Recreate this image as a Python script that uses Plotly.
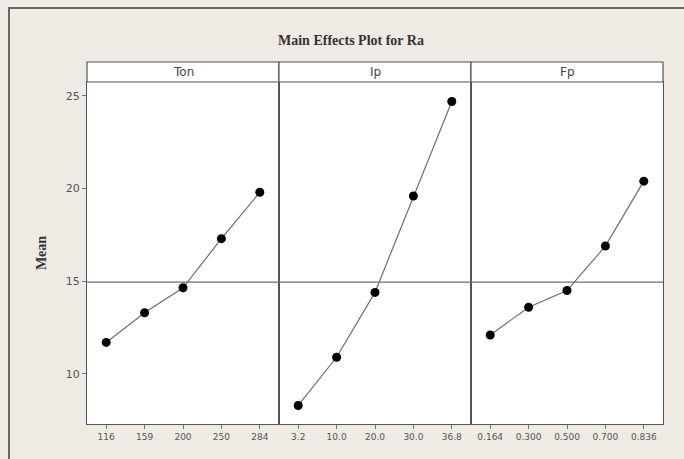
import plotly.graph_objects as go
from plotly.subplots import make_subplots

factors = ["Ton", "Ip", "Fp"]
ton_levels = ["116", "159", "200", "250", "284"]
ip_levels = ["3.2", "10.0", "20.0", "30.0", "36.8"]
fp_levels = ["0.164", "0.300", "0.500", "0.700", "0.836"]
ton_means = [11.7, 13.3, 14.65, 17.3, 19.8]
ip_means = [8.3, 10.9, 14.4, 19.6, 24.7]
fp_means = [12.1, 13.6, 14.5, 16.9, 20.4]
overall_mean = 14.95
y_ticks = [10, 15, 20, 25]

levels = [ton_levels, ip_levels, fp_levels]
means = [ton_means, ip_means, fp_means]

W, H = 684, 459
L, R, T, B = 87, 21, 82, 35
ph = H - T - B
pw = W - L - R
BG = "#efeae4"

fig = make_subplots(rows=1, cols=3, shared_yaxes=True, horizontal_spacing=0)

for i in range(3):
    fig.add_trace(go.Scatter(
        x=levels[i], y=means[i], mode="lines+markers",
        line=dict(color="#6e6e6e", width=1.2),
        marker=dict(color="black", size=9),
        showlegend=False), row=1, col=i + 1)
    fig.update_xaxes(type="category", range=[-0.5, 4.5], showline=True, mirror=True,
                     linecolor="#555555", linewidth=1.2, ticks="outside", ticklen=4,
                     tickcolor="#777777", showgrid=False, zeroline=False,
                     tickfont=dict(family="DejaVu Sans", size=9, color="#555555"),
                     row=1, col=i + 1)
    xr = "x" if i == 0 else f"x{i+1}"
    fig.add_shape(type="line", xref=f"{xr} domain", yref="y", x0=0, x1=1,
                  y0=overall_mean, y1=overall_mean,
                  line=dict(color="#707070", width=1.2))
    fig.add_shape(type="rect", xref=f"{xr} domain", yref="paper", x0=0, x1=1,
                  y0=1, y1=1 + 20 / ph, fillcolor="white",
                  line=dict(color="#555555", width=1.2))
    fig.add_annotation(xref=f"{xr} domain", yref="paper", x=0.5, y=1 + 10 / ph,
                       text=factors[i], showarrow=False, yanchor="middle",
                       font=dict(family="DejaVu Sans", size=12, color="#444444"))

fig.update_yaxes(range=[7.3, 25.75], tickvals=y_ticks, showline=True, mirror=True,
                 linecolor="#555555", linewidth=1.2, showgrid=False, zeroline=False)
fig.update_yaxes(ticks="outside", ticklen=4, tickcolor="#777777",
                 tickfont=dict(family="DejaVu Sans", size=11, color="#555555"),
                 title=dict(text="<b>Mean</b>", standoff=15,
                            font=dict(family="Liberation Serif", size=14, color="#333333")),
                 row=1, col=1)

fig.add_annotation(xref="paper", yref="paper", x=(351 - L) / pw, y=(H - B - 40) / ph,
                   text="<b>Main Effects Plot for Ra</b>", showarrow=False,
                   yanchor="middle",
                   font=dict(family="Liberation Serif", size=14, color="#333333"))

fig.add_shape(type="line", xref="paper", yref="paper", x0=(8 - L) / pw, x1=(W + 5 - L) / pw,
              y0=(H - B - 8) / ph, y1=(H - B - 8) / ph, line=dict(color="#666666", width=2))
fig.add_shape(type="line", xref="paper", yref="paper", x0=(9 - L) / pw, x1=(9 - L) / pw,
              y0=(H - B - 8) / ph, y1=(-B - 5) / ph, line=dict(color="#666666", width=2))

fig.update_layout(width=W, height=H, margin=dict(l=L, r=R, t=T, b=B),
                  paper_bgcolor=BG, plot_bgcolor="white")

fig.write_html("out.html", config={"displayModeBar": False},
               post_script=f"document.body.style.margin='0';document.body.style.background='{BG}';")
